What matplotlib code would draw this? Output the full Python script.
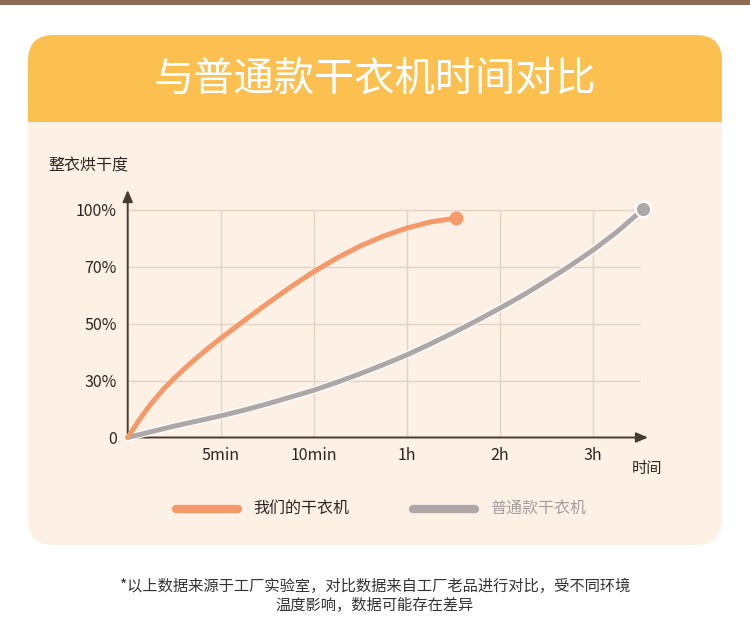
import numpy as np
import matplotlib
matplotlib.use("Agg")
import matplotlib.pyplot as plt
from matplotlib.patches import FancyBboxPatch, Rectangle
import matplotlib.patheffects as pe

plt.rcParams['font.family'] = ['Noto Sans CJK SC', 'DejaVu Sans']

# data, in grid units (one unit = one tick step on each axis)
x_ticks = [1, 2, 3, 4, 5]
x_labels = ['5min', '10min', '1h', '2h', '3h']
y_ticks = [0, 1, 2, 3, 4]
y_labels = ['0', '30%', '50%', '70%', '100%']

ours_x = [0, 0.125, 0.25, 0.375, 0.5, 0.625, 0.75, 0.875, 1.0, 1.25, 1.5, 1.75,
          2.0, 2.25, 2.5, 2.75, 3.0, 3.25, 3.53]
ours_y = [0, 0.31, 0.59, 0.83, 1.04, 1.23, 1.41, 1.58, 1.74, 2.05, 2.35, 2.64,
          2.91, 3.15, 3.36, 3.535, 3.675, 3.78, 3.85]

normal_x = [0, 0.25, 0.5, 0.75, 1.0, 1.25, 1.5, 1.75, 2.0, 2.25, 2.5, 2.75,
            3.0, 3.25, 3.5, 3.75, 4.0, 4.25, 4.5, 4.75, 5.0, 5.25, 5.54]
normal_y = [0, 0.10, 0.20, 0.29, 0.38, 0.48, 0.59, 0.71, 0.83, 0.97, 1.12, 1.28,
            1.45, 1.64, 1.84, 2.05, 2.27, 2.50, 2.75, 3.01, 3.29, 3.60, 4.01]

series_names = ['我们的干衣机', '普通款干衣机']

orange = '#F4996A'
grey = '#ADA7A8'
axis_col = '#4A3A30'
grid_col = '#E3D3C5'
text_col = '#2E2522'

W, H = 750, 641
fig = plt.figure(figsize=(W / 100, H / 100), dpi=100)
fig.patch.set_facecolor('#FFFFFF')

# background layer in pixel coordinates
bg = fig.add_axes([0, 0, 1, 1])
bg.set_xlim(0, W)
bg.set_ylim(H, 0)
bg.axis('off')

bg.add_patch(Rectangle((0, 0), W, 5, color='#8C6B52', lw=0))
# card body
bg.add_patch(FancyBboxPatch((28 + 26, 35 + 26), 694 - 52, 510 - 52,
                            boxstyle='round,pad=26', fc='#FDF1E6', ec='none'))
# header (rounded top, square bottom at y=122)
bg.add_patch(FancyBboxPatch((28 + 26, 35 + 26), 694 - 52, 35,
                            boxstyle='round,pad=26', fc='#FBC050', ec='none'))
bg.add_patch(Rectangle((28, 90), 694, 32, fc='#FBC050', lw=0))
bg.text(375, 79, '与普通款干衣机时间对比', color='white', fontsize=29,
        ha='center', va='center', fontweight='medium')

bg.text(48, 166, '整衣烘干度', color=text_col, fontsize=11.5, ha='left', va='center')
bg.text(647, 469, '时间', color=text_col, fontsize=11, ha='center', va='center')

# legend
bg.plot([176, 238], [509, 509], color=orange, lw=6, solid_capstyle='round')
bg.text(253, 508, series_names[0], color=text_col, fontsize=11.5, ha='left', va='center')
bg.plot([413, 475], [509, 509], color=grey, lw=6, solid_capstyle='round')
bg.text(490, 508, series_names[1], color='#A59D9D', fontsize=11.5, ha='left', va='center')

bg.text(375, 586, '*以上数据来源于工厂实验室，对比数据来自工厂老品进行对比，受不同环境',
        color='#333333', fontsize=11, ha='center', va='center')
bg.text(375, 605, '温度影响，数据可能存在差异',
        color='#333333', fontsize=11, ha='center', va='center')

# chart axes
ox, oy = 127.7, 437.5
ux, uy = 93.1, 57.0
x_end, y_end = 648.0, 190.0
ax = fig.add_axes([ox / W, (H - oy) / H, (x_end - ox) / W, (oy - y_end) / H])
ax.set_xlim(0, (x_end - ox) / ux)
ax.set_ylim(0, (oy - y_end) / uy)
ax.patch.set_alpha(0)
for s in ax.spines.values():
    s.set_visible(False)

grid_right = (640 - ox) / ux
ax.hlines(y_ticks[1:], 0, grid_right, color=grid_col, lw=1, zorder=1)
ax.vlines(x_ticks, 0, y_ticks[-1], color=grid_col, lw=1, zorder=1)

ax.annotate('', xy=(ax.get_xlim()[1], 0), xytext=(0, 0),
            arrowprops=dict(arrowstyle='-|>,head_length=0.7,head_width=0.3',
                            color=axis_col, lw=1.4, shrinkA=0, shrinkB=0),
            annotation_clip=False, zorder=2)
ax.annotate('', xy=(0, ax.get_ylim()[1]), xytext=(0, 0),
            arrowprops=dict(arrowstyle='-|>,head_length=0.7,head_width=0.3',
                            color=axis_col, lw=1.4, shrinkA=0, shrinkB=0),
            annotation_clip=False, zorder=2)

ax.set_xticks(x_ticks, x_labels)
ax.set_yticks(y_ticks, y_labels)
ax.tick_params(length=0, labelsize=11.5, labelcolor=text_col)
ax.tick_params(axis='x', pad=7)
ax.tick_params(axis='y', pad=8)

ax.plot(normal_x, normal_y, color=grey, lw=3.6, solid_joinstyle='round',
        solid_capstyle='round', zorder=3,
        path_effects=[pe.Stroke(linewidth=5.2, foreground='white'), pe.Normal()],
        clip_on=False)
ax.plot(normal_x[-1], normal_y[-1], 'o', ms=11, color=grey, mec='white', mew=1.5,
        zorder=4, clip_on=False)

ax.plot(ours_x, ours_y, color=orange, lw=3.6, solid_joinstyle='round',
        solid_capstyle='round', zorder=3, clip_on=False)
ax.plot(ours_x[-1], ours_y[-1], 'o', ms=10, color=orange, mew=0, zorder=4,
        clip_on=False)

fig.savefig('out.png', dpi=100, facecolor=fig.get_facecolor())
